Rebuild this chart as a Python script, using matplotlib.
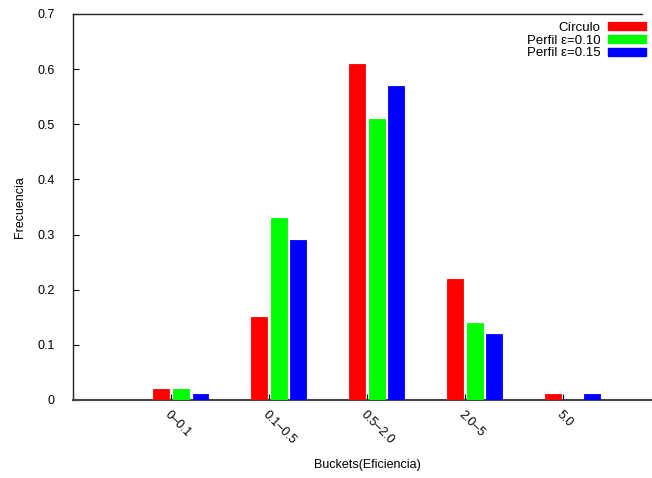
import numpy as np
import matplotlib
matplotlib.use("Agg")
from matplotlib import pyplot as plt
from matplotlib.patches import Patch

# data
buckets = ["0\u20130.1", "0.1\u20130.5", "0.5\u20132.0", "2.0\u20135", "5.0"]
circulo = [0.02, 0.15, 0.61, 0.22, 0.01]
perfil_010 = [0.02, 0.33, 0.51, 0.14, 0.0]
perfil_015 = [0.01, 0.29, 0.57, 0.12, 0.01]
labels = ["C\u00edrculo", "Perfil \u03b5=0.10", "Perfil \u03b5=0.15"]
colors = ["#ff0000", "#00ff00", "#0000ff"]

W, H = 652, 478
plt.rcParams['font.family'] = ['Liberation Sans', 'DejaVu Sans']
fig = plt.figure(figsize=(W/100, H/100), dpi=100)
ax = fig.add_axes([73/W, 1 - 400/H, (652-73)/W, (400-14)/H])

x = np.arange(len(buckets))
w = 0.16
offs = [-0.1, 0.1, 0.3]
for vals, off, c in zip([circulo, perfil_010, perfil_015], offs, colors):
    ax.bar(x + off, vals, width=w, color=c, edgecolor=c, linewidth=0.6, zorder=3)

ax.set_xlim(-1.0, 4.91)
ax.set_ylim(0, 0.7)
ax.set_yticks(np.arange(0, 0.71, 0.1))
ax.set_yticklabels(["0"] + ["%.1f" % v for v in np.arange(0.1, 0.71, 0.1)])
ax.set_xticks(x)
ax.set_xticklabels(buckets, rotation=-45, ha="left", va="top", rotation_mode="anchor")
ax.tick_params(direction="in", length=4, labelsize=9, width=0.8)
ax.tick_params(axis="y", pad=13)
ax.tick_params(axis="x", pad=6)
ax.spines["right"].set_visible(False)
ax.spines["top"].set_bounds(-1.0, 4.81)
for s in ax.spines.values():
    s.set_linewidth(1.0)
    s.set_color("#222222")
ax.spines["bottom"].set_color("#444444")
ax.spines["bottom"].set_linewidth(1.5)
ax.set_ylabel("Frecuencia", fontsize=9, labelpad=8)
fig.text(367/W, 1 - 465/H, "Buckets(Eficiencia)", fontsize=9, ha="center", va="center")

handles = [Patch(facecolor=c, edgecolor=c) for c in colors]
ax.legend(handles, labels, loc="upper right", bbox_to_anchor=(646/W, 1 - 22/H),
          bbox_transform=fig.transFigure, frameon=False, fontsize=9.5,
          markerfirst=False, handlelength=2.9, handleheight=0.55,
          borderaxespad=0, borderpad=0, labelspacing=0.05, handletextpad=0.55)

fig.savefig("out.png", dpi=100)
